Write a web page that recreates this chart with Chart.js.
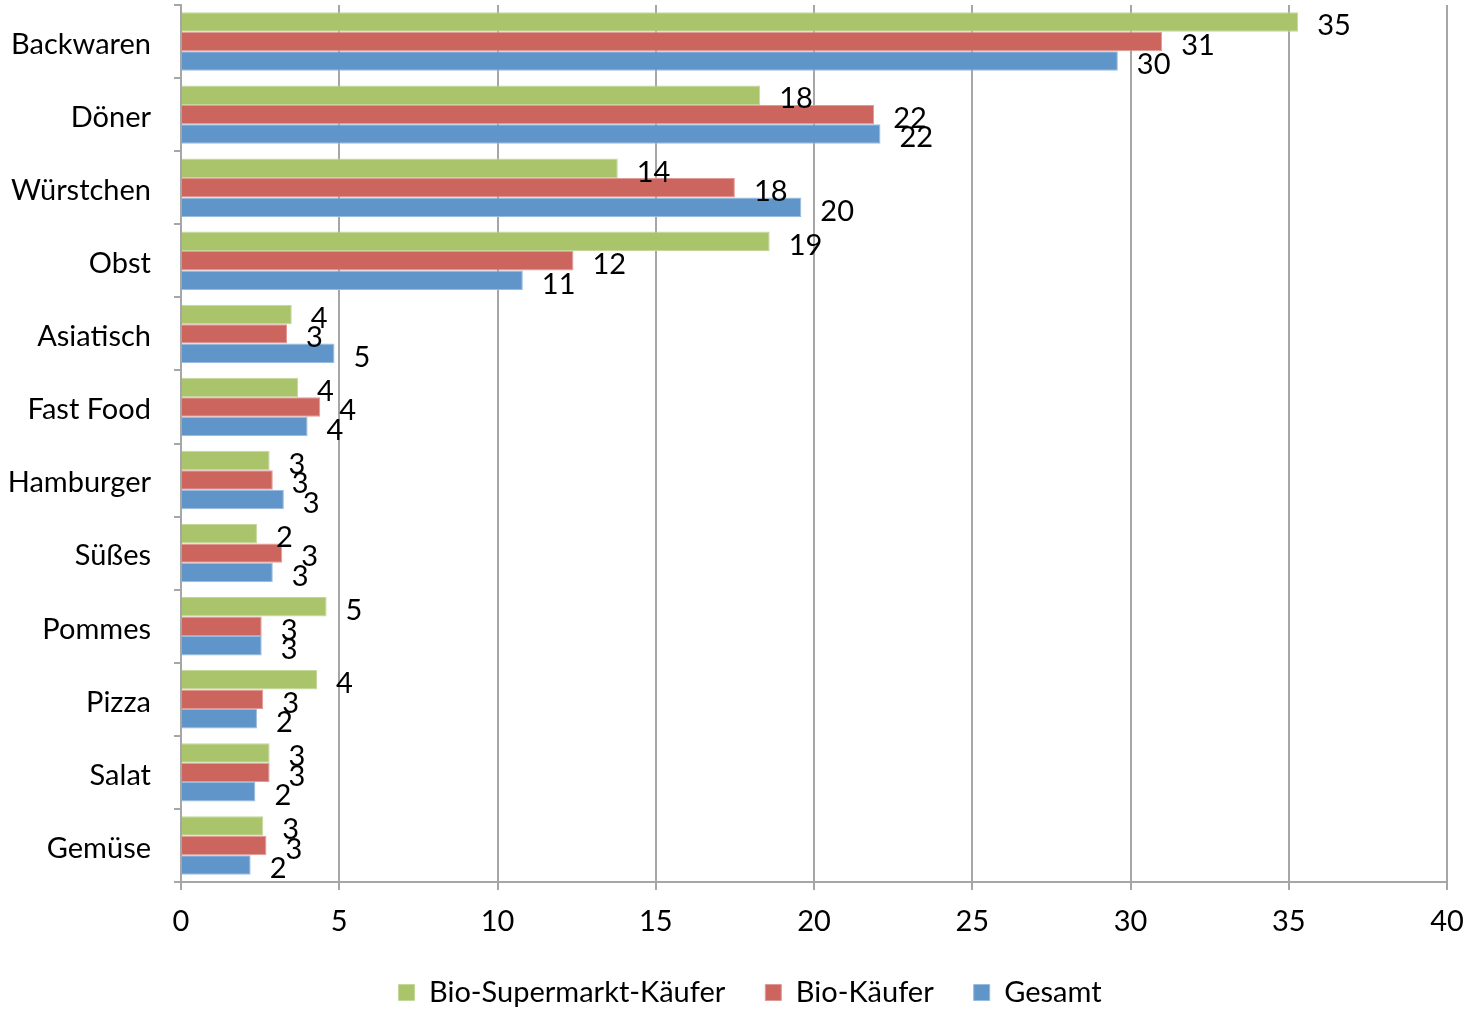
<!DOCTYPE html>
<html>
<head>
<meta charset="utf-8">
<script src="https://cdn.jsdelivr.net/npm/chart.js@4/dist/chart.umd.min.js"></script>
<style>
  html, body { margin: 0; padding: 0; background: #fff; overflow: hidden; }
  #wrap { width: 1468px; height: 1009px; overflow: hidden; }
  #inner { width: 1468px; height: 1017px; }
</style>
</head>
<body>
<div id="wrap"><div id="inner"><canvas id="chart"></canvas></div></div>
<script>
// categories top to bottom
const categories = ["Backwaren", "Döner", "Würstchen", "Obst", "Asiatisch", "Fast Food",
  "Hamburger", "Süßes", "Pommes", "Pizza", "Salat", "Gemüse"];

// values (labels show rounded values)
const bioSupermarkt = [35.3, 18.3, 13.8, 18.6, 3.5, 3.7, 2.8, 2.4, 4.6, 4.3, 2.8, 2.6];
const bioKaeufer = [31.0, 21.9, 17.5, 12.4, 3.35, 4.4, 2.9, 3.2, 2.55, 2.6, 2.8, 2.7];
const gesamt = [29.6, 22.1, 19.6, 10.8, 4.85, 4.0, 3.25, 2.9, 2.55, 2.4, 2.35, 2.2];

const xTicks = [0, 5, 10, 15, 20, 25, 30, 35, 40];

const FONT = "Lato, 'Open Sans', sans-serif";
const FS = 29;

// draws rounded value to the right of each bar
const valueLabels = {
  id: "valueLabels",
  afterDatasetsDraw(chart) {
    const ctx = chart.ctx;
    ctx.save();
    ctx.font = FS + "px " + FONT;
    ctx.fillStyle = "#000";
    ctx.textAlign = "left";
    ctx.textBaseline = "middle";
    chart.data.datasets.forEach((ds, i) => {
      chart.getDatasetMeta(i).data.forEach((bar, j) => {
        ctx.fillText(Math.round(ds.data[j]), bar.x + 19, bar.y + 4);
      });
    });
    ctx.restore();
  }
};

// legend in the original sits a bit right of the canvas centre
const shiftLegend = {
  id: "shiftLegend",
  afterLayout(chart) {
    if (chart.legend) {
      chart.legend.left += 16;
      chart.legend.right += 16;
    }
  }
};

new Chart(document.getElementById("chart"), {
  type: "bar",
  data: {
    labels: categories,
    datasets: [
      { label: "Bio-Supermarkt-Käufer", data: bioSupermarkt, backgroundColor: "#a9c46b", borderColor: "#c3d89a", borderWidth: 1 },
      { label: "Bio-Käufer", data: bioKaeufer, backgroundColor: "#cd655f", borderColor: "#e09a96", borderWidth: 1 },
      { label: "Gesamt", data: gesamt, backgroundColor: "#6095c9", borderColor: "#98bbe0", borderWidth: 1 }
    ]
  },
  options: {
    indexAxis: "y",
    responsive: true,
    maintainAspectRatio: false,
    animation: false,
    layout: { padding: { top: 5, right: 0, left: 0, bottom: 0 } },
    datasets: { bar: { barPercentage: 1.0, categoryPercentage: 0.8 } },
    scales: {
      x: {
        min: 0,
        max: 40,
        afterBuildTicks: (scale) => { scale.ticks = xTicks.map(v => ({ value: v })); },
        grid: { color: "#a6a6a6", lineWidth: 2, tickLength: 8 },
        border: { color: "#a6a6a6", width: 2 },
        ticks: { color: "#000", font: { family: FONT, size: FS }, padding: 14 },
        afterFit: (scale) => {
          scale.height = 56;
          scale.paddingLeft = 0;
          scale.paddingRight = 21;
        }
      },
      y: {
        grid: { drawOnChartArea: false, offset: true, color: "#a6a6a6", lineWidth: 2, tickLength: 7 },
        border: { color: "#a6a6a6", width: 2 },
        ticks: { color: "#000", font: { family: FONT, size: FS }, padding: 23, labelOffset: 3 },
        afterFit: (scale) => {
          scale.width = 181;
          scale.paddingTop = 0;
          scale.paddingBottom = 0;
        }
      }
    },
    plugins: {
      legend: {
        position: "bottom",
        labels: {
          color: "#000",
          font: { family: FONT, size: FS },
          boxWidth: 16,
          boxHeight: 16,
          padding: 40
        }
      },
      tooltip: { enabled: false }
    }
  },
  plugins: [valueLabels, shiftLegend]
});
</script>
</body>
</html>
